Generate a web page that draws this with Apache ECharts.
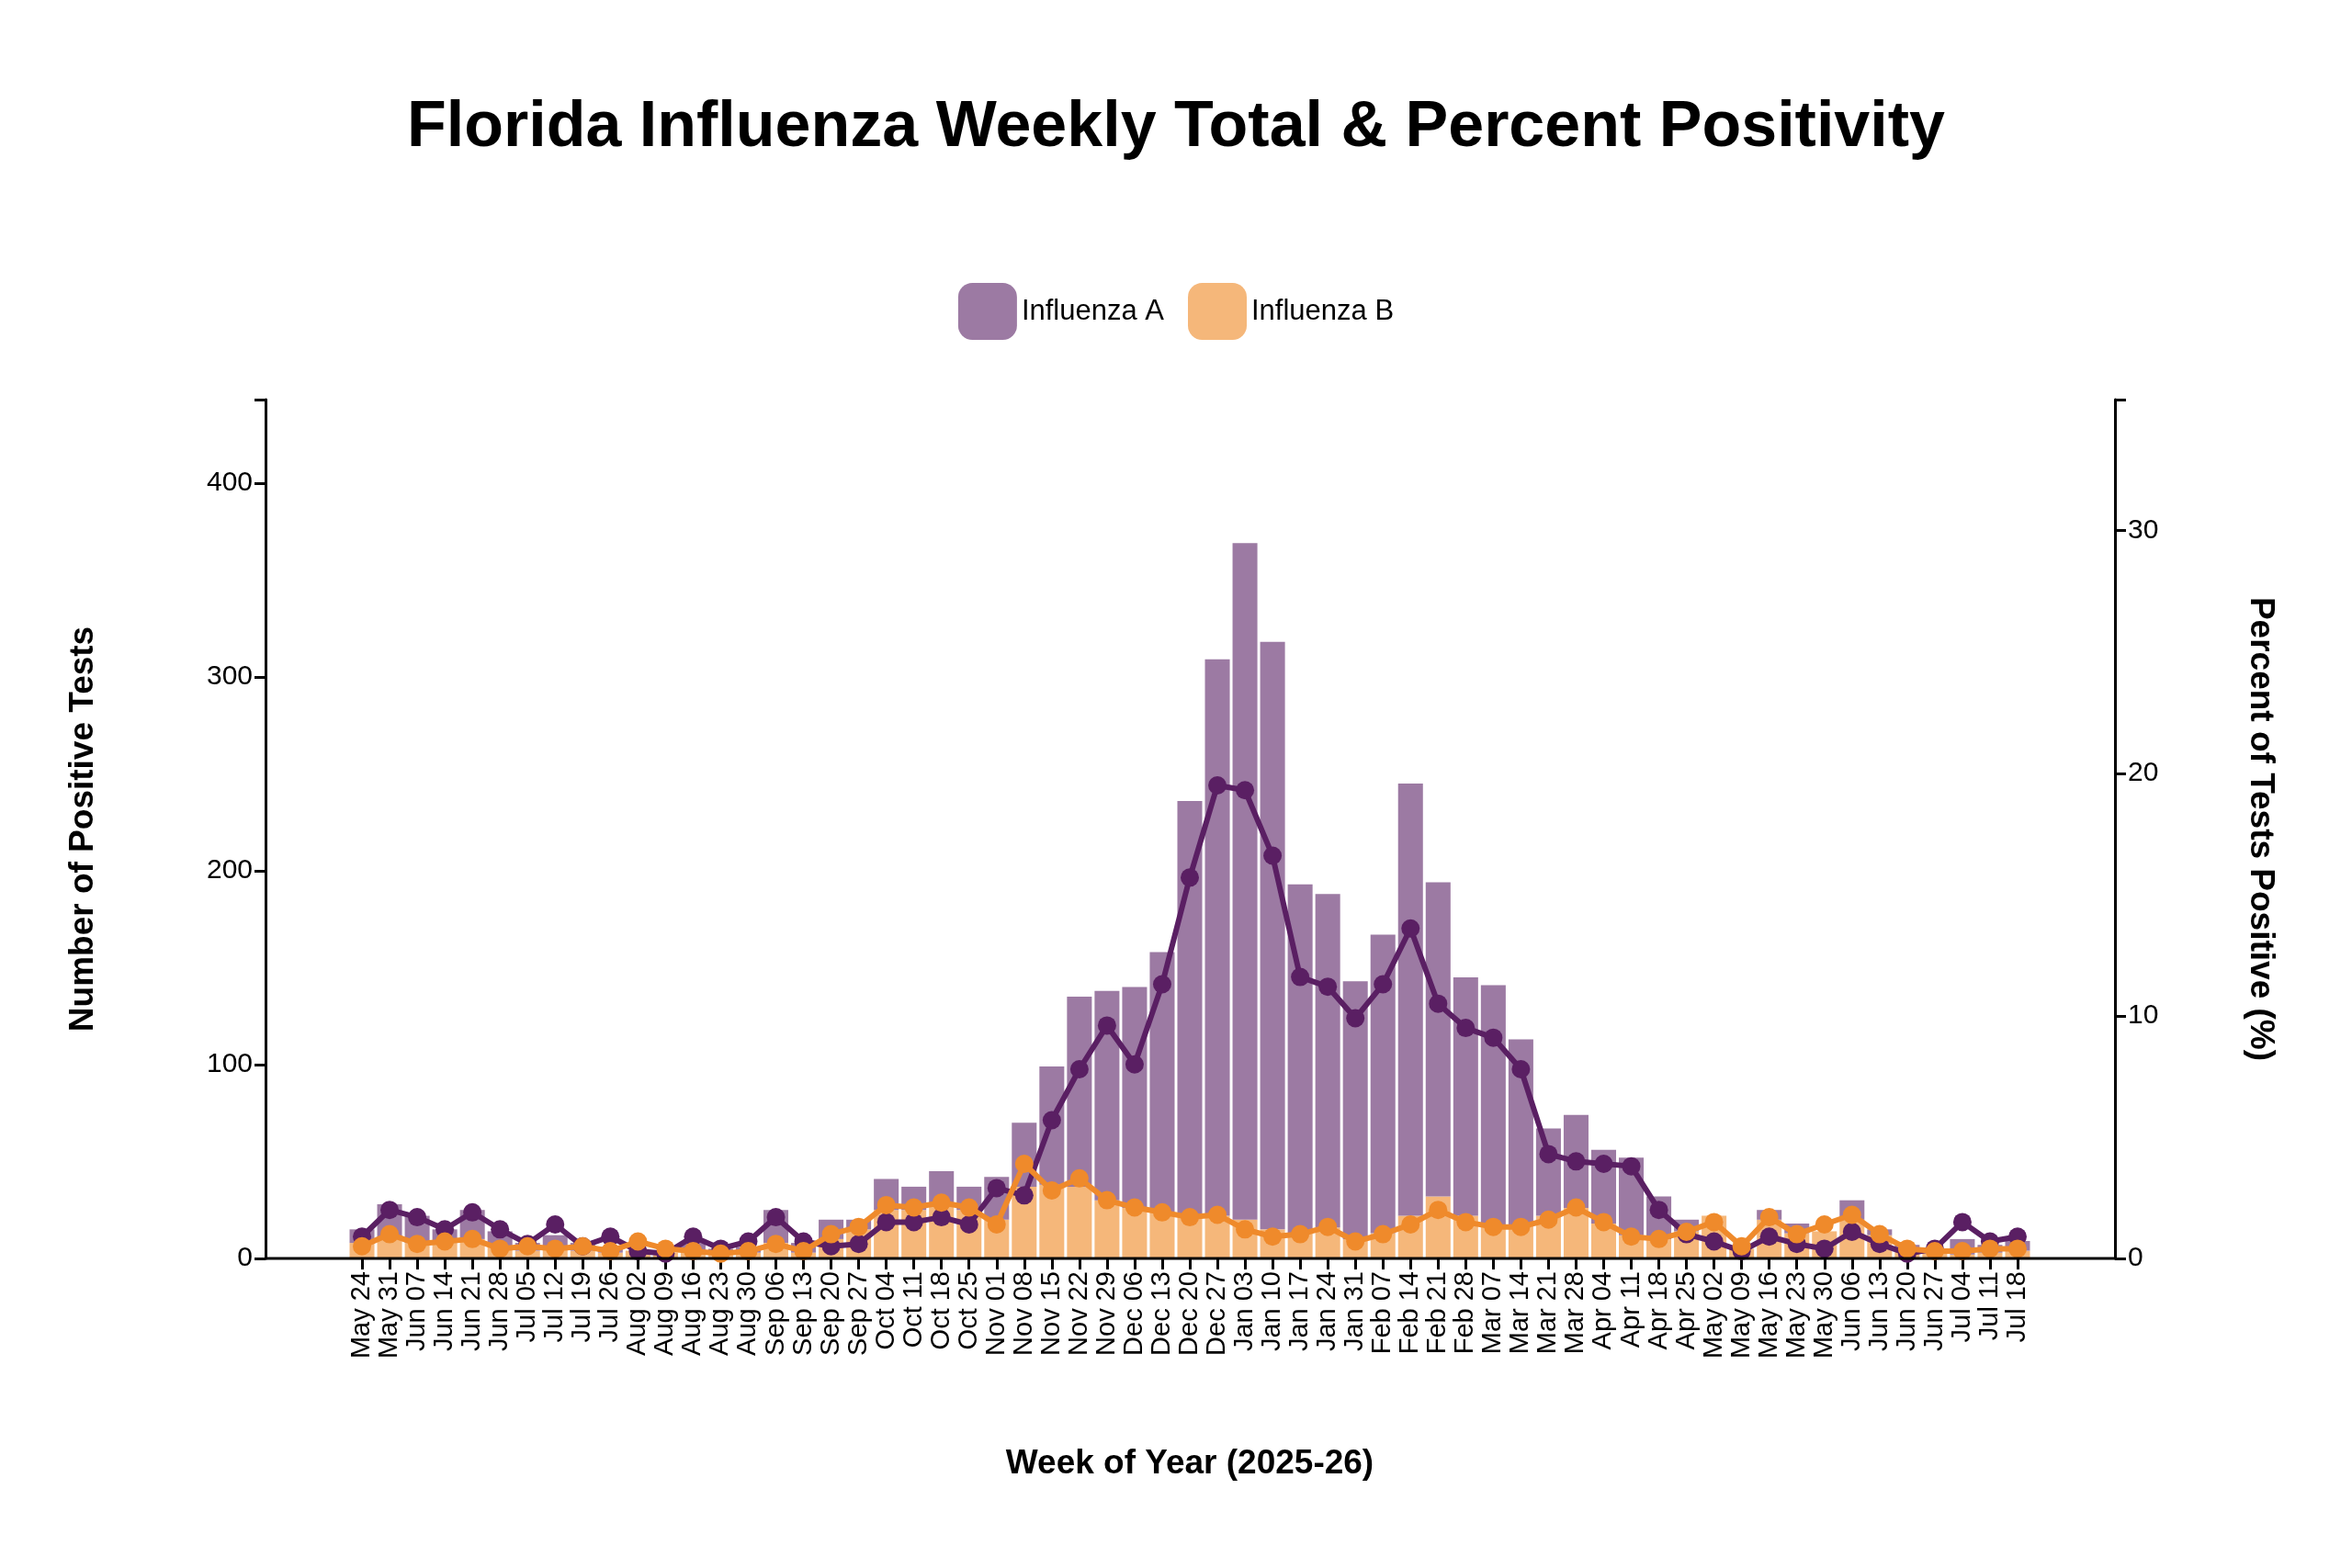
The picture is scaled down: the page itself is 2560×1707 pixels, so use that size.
<!DOCTYPE html>
<html><head><meta charset="utf-8">
<script src="https://cdn.jsdelivr.net/npm/echarts@6/dist/echarts.min.js"></script>
<style>html,body{margin:0;background:#fff}#c{width:2560px;height:1707px}</style></head>
<body><div id="c"></div>
<script>
const weeks=["May 24","May 31","Jun 07","Jun 14","Jun 21","Jun 28","Jul 05","Jul 12","Jul 19","Jul 26","Aug 02","Aug 09","Aug 16","Aug 23","Aug 30","Sep 06","Sep 13","Sep 20","Sep 27","Oct 04","Oct 11","Oct 18","Oct 25","Nov 01","Nov 08","Nov 15","Nov 22","Nov 29","Dec 06","Dec 13","Dec 20","Dec 27","Jan 03","Jan 10","Jan 17","Jan 24","Jan 31","Feb 07","Feb 14","Feb 21","Feb 28","Mar 07","Mar 14","Mar 21","Mar 28","Apr 04","Apr 11","Apr 18","Apr 25","May 02","May 09","May 16","May 23","May 30","Jun 06","Jun 13","Jun 20","Jun 27","Jul 04","Jul 11","Jul 18"];
const totalTests=[15,28,22,15,25,14,8,12,8,6,4,3,8,5,6,25,8,20,20,41,37,45,37,42,70,99,135,138,140,158,236,309,369,318,193,188,143,167,245,194,145,141,113,67,74,56,52,32,20,22,5,25,18,14,30,15,7,5,10,7,9];
const countB=[8,10,8,8,10,6,4,5,4,3,4,3,3,2,3,8,3,10,15,25,25,27,25,20,37,38,37,30,26,24,22,22,20,15,13,16,10,13,22,32,22,17,17,22,26,18,12,10,14,22,5,20,13,14,20,12,5,3,2,3,4];
const pctA=[0.9,2.0,1.7,1.2,1.9,1.2,0.6,1.4,0.5,0.9,0.3,0.2,0.9,0.4,0.7,1.7,0.7,0.5,0.6,1.5,1.5,1.7,1.4,2.9,2.6,5.7,7.8,9.6,8.0,11.3,15.7,19.5,19.3,16.6,11.6,11.2,9.9,11.3,13.6,10.5,9.5,9.1,7.8,4.3,4.0,3.9,3.8,2.0,1.0,0.7,0.3,0.9,0.6,0.4,1.1,0.6,0.2,0.4,1.5,0.7,0.9];
const pctB=[0.5,1.0,0.6,0.7,0.8,0.4,0.5,0.4,0.5,0.3,0.7,0.4,0.3,0.2,0.3,0.6,0.3,1.0,1.3,2.2,2.1,2.3,2.1,1.4,3.9,2.8,3.3,2.4,2.1,1.9,1.7,1.8,1.2,0.9,1.0,1.3,0.7,1.0,1.4,2.0,1.5,1.3,1.3,1.6,2.1,1.5,0.9,0.8,1.1,1.5,0.5,1.7,1.0,1.4,1.8,1.0,0.4,0.3,0.3,0.4,0.4];
const countA=totalTests.map((t,i)=>Math.max(0,t-countB[i]));
const font='Liberation Sans, Arial, sans-serif';
const chart=echarts.init(document.getElementById('c'));
chart.setOption({
  backgroundColor:'#fff',
  textStyle:{fontFamily:font},
  title:{text:'Florida Influenza Weekly Total & Percent Positivity',left:'center',top:100,textStyle:{fontSize:70,fontWeight:'bold',color:'#000',fontFamily:font}},
  legend:{top:303,left:'center',itemWidth:64,itemHeight:62,itemGap:26,textStyle:{fontSize:31,color:'#000',fontFamily:font},
    data:[{name:'Influenza A'},{name:'Influenza B'}]},
  grid:{left:379,right:349,top:435,bottom:337,containLabel:false},
  xAxis:{type:'category',data:weeks,boundaryGap:true,
    axisLine:{show:false},axisTick:{show:true,alignWithLabel:true,length:12,lineStyle:{color:'#000',width:3}},
    axisLabel:{rotate:90,interval:0,fontSize:29,color:'#000',margin:14,fontFamily:font},
    name:'Week of Year (2025-26)',nameLocation:'middle',nameGap:205,nameTextStyle:{fontSize:37,fontWeight:'bold',color:'#000',fontFamily:font}},
  yAxis:[
    {type:'value',min:0,max:443,interval:100,offset:90,splitLine:{show:false},
     axisLine:{show:true,lineStyle:{color:'#000',width:3}},axisTick:{show:true,length:12,lineStyle:{color:'#000',width:3}},
     axisLabel:{fontSize:30,color:'#000',margin:14,fontFamily:font,formatter:v=>v%100===0?v:''},
     name:'Number of Positive Tests',nameLocation:'middle',nameGap:180,nameRotate:90,nameTextStyle:{fontSize:37,fontWeight:'bold',color:'#000',fontFamily:font}},
    {type:'value',min:0,max:35.4,interval:10,offset:91,position:'right',splitLine:{show:false},
     axisLine:{show:true,lineStyle:{color:'#000',width:3}},axisTick:{show:true,length:12,lineStyle:{color:'#000',width:3}},
     axisLabel:{fontSize:30,color:'#000',margin:14,fontFamily:font,formatter:v=>v%10===0?v:''},
     name:'Percent of Tests Positive (%)',nameLocation:'middle',nameGap:140,nameRotate:-90,nameTextStyle:{fontSize:37,fontWeight:'bold',color:'#000',fontFamily:font}}
  ],
  graphic:[{type:'line',shape:{x1:289,y1:1370,x2:2302,y2:1370},style:{stroke:'#000',lineWidth:3},z:100}],
  series:[
    {name:'Influenza B',type:'bar',stack:'n',data:countB,barCategoryGap:'10%',itemStyle:{color:'#F5B77A'},yAxisIndex:0},
    {name:'Influenza A',type:'bar',stack:'n',data:countA,barCategoryGap:'10%',itemStyle:{color:'#9C7AA3'},yAxisIndex:0},
    {name:'Influenza A',type:'line',yAxisIndex:1,data:pctA,symbol:'circle',symbolSize:20,lineStyle:{color:'#5A1F63',width:6},itemStyle:{color:'#5A1F63'},z:5},
    {name:'Influenza B',type:'line',yAxisIndex:1,data:pctB,symbol:'circle',symbolSize:20,lineStyle:{color:'#EF8A2B',width:6},itemStyle:{color:'#EF8A2B'},z:6}
  ]
});
</script></body></html>
